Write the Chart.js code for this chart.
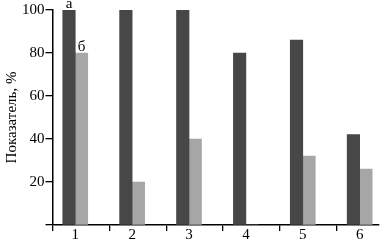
<!DOCTYPE html>
<html>
<head>
<meta charset="utf-8">
<script src="https://cdn.jsdelivr.net/npm/chart.js@4.4.0/dist/chart.umd.min.js"></script>
<style>
html, body { margin: 0; padding: 0; background: #fff; overflow: hidden; }
#wrap { width: 384px; height: 246px; }
</style>
</head>
<body>
<div id="wrap"><canvas id="showchart"></canvas></div>
<script>
var categories = ['1', '2', '3', '4', '5', '6'];
var seriesA = [100, 100, 100, 80, 86, 42];
var seriesB = [80, 20, 40, 0, 32, 26];
var seriesLetters = ['а', 'б'];
var yTicks = [0, 20, 40, 60, 80, 100];

var serif = '"Liberation Serif", "Times New Roman", serif';

function toPoints(arr) {
	return arr.map(function (v, i) { return { x: i + 1, y: v }; });
}

var letterPlugin = {
	id: 'letters',
	afterDatasetsDraw: function (chart) {
		var ctx = chart.ctx;
		ctx.save();
		ctx.font = '15px ' + serif;
		ctx.fillStyle = '#000';
		ctx.textAlign = 'center';
		ctx.textBaseline = 'alphabetic';
		for (var d = 0; d < chart.data.datasets.length; d++) {
			var bar = chart.getDatasetMeta(d).data[0];
			ctx.fillText(seriesLetters[d], bar.x, bar.y - 2);
		}
		ctx.restore();
	}
};

var chartdata = {
	datasets: [
		{
			label: seriesLetters[0],
			backgroundColor: '#474747',
			data: toPoints(seriesA)
		},
		{
			label: seriesLetters[1],
			backgroundColor: '#a6a6a6',
			data: toPoints(seriesB)
		}
	]
};

var ctx = document.getElementById('showchart');
var barGraph = new Chart(ctx, {
	type: 'bar',
	data: chartdata,
	plugins: [letterPlugin],
	options: {
		responsive: true,
		maintainAspectRatio: false,
		animation: false,
		layout: { padding: { top: 1, right: 5, bottom: 6, left: 0 } },
		datasets: { bar: { barThickness: 12.5, grouped: true } },
		plugins: { legend: { display: false }, tooltip: { enabled: false } },
		scales: {
			x: {
				type: 'linear',
				offset: false,
				min: 0.6,
				max: 6.34,
				afterBuildTicks: function (axis) {
					var t = [];
					for (var i = 0; i < categories.length; i++) {
						t.push({ value: i + 0.6 });
						t.push({ value: i + 1 });
					}
					axis.ticks = t;
				},
				grid: {
					offset: false,
					drawOnChartArea: false,
					drawTicks: true,
					tickLength: 6,
					lineWidth: 1.3,
					tickColor: function (c) {
						return (c.tick && c.tick.value % 1 === 0) ? 'rgba(0,0,0,0)' : '#000';
					}
				},
				border: { color: '#000', width: 1.5 },
				ticks: {
					autoSkip: false,
					maxRotation: 0,
					padding: -3,
					color: '#000',
					font: { family: serif, size: 15, lineHeight: 1 },
					callback: function (value) {
						return value % 1 === 0 ? categories[value - 1] : '';
					}
				}
			},
			y: {
				min: 0,
				max: 100,
				afterBuildTicks: function (axis) {
					axis.ticks = yTicks.map(function (v) { return { value: v }; });
				},
				grid: {
					drawOnChartArea: false,
					drawTicks: true,
					tickLength: 7,
					lineWidth: 1.3,
					tickColor: '#000'
				},
				border: { color: '#000', width: 1.5 },
				ticks: {
					padding: 1,
					color: '#000',
					font: { family: serif, size: 15 },
					callback: function (value) {
						return value === 0 ? '' : value;
					}
				},
				title: {
					display: true,
					text: 'Показатель, %',
					color: '#000',
					padding: { top: 3, bottom: 0 },
					font: { family: serif, size: 15 }
				}
			}
		}
	}
});
</script>
</body>
</html>
